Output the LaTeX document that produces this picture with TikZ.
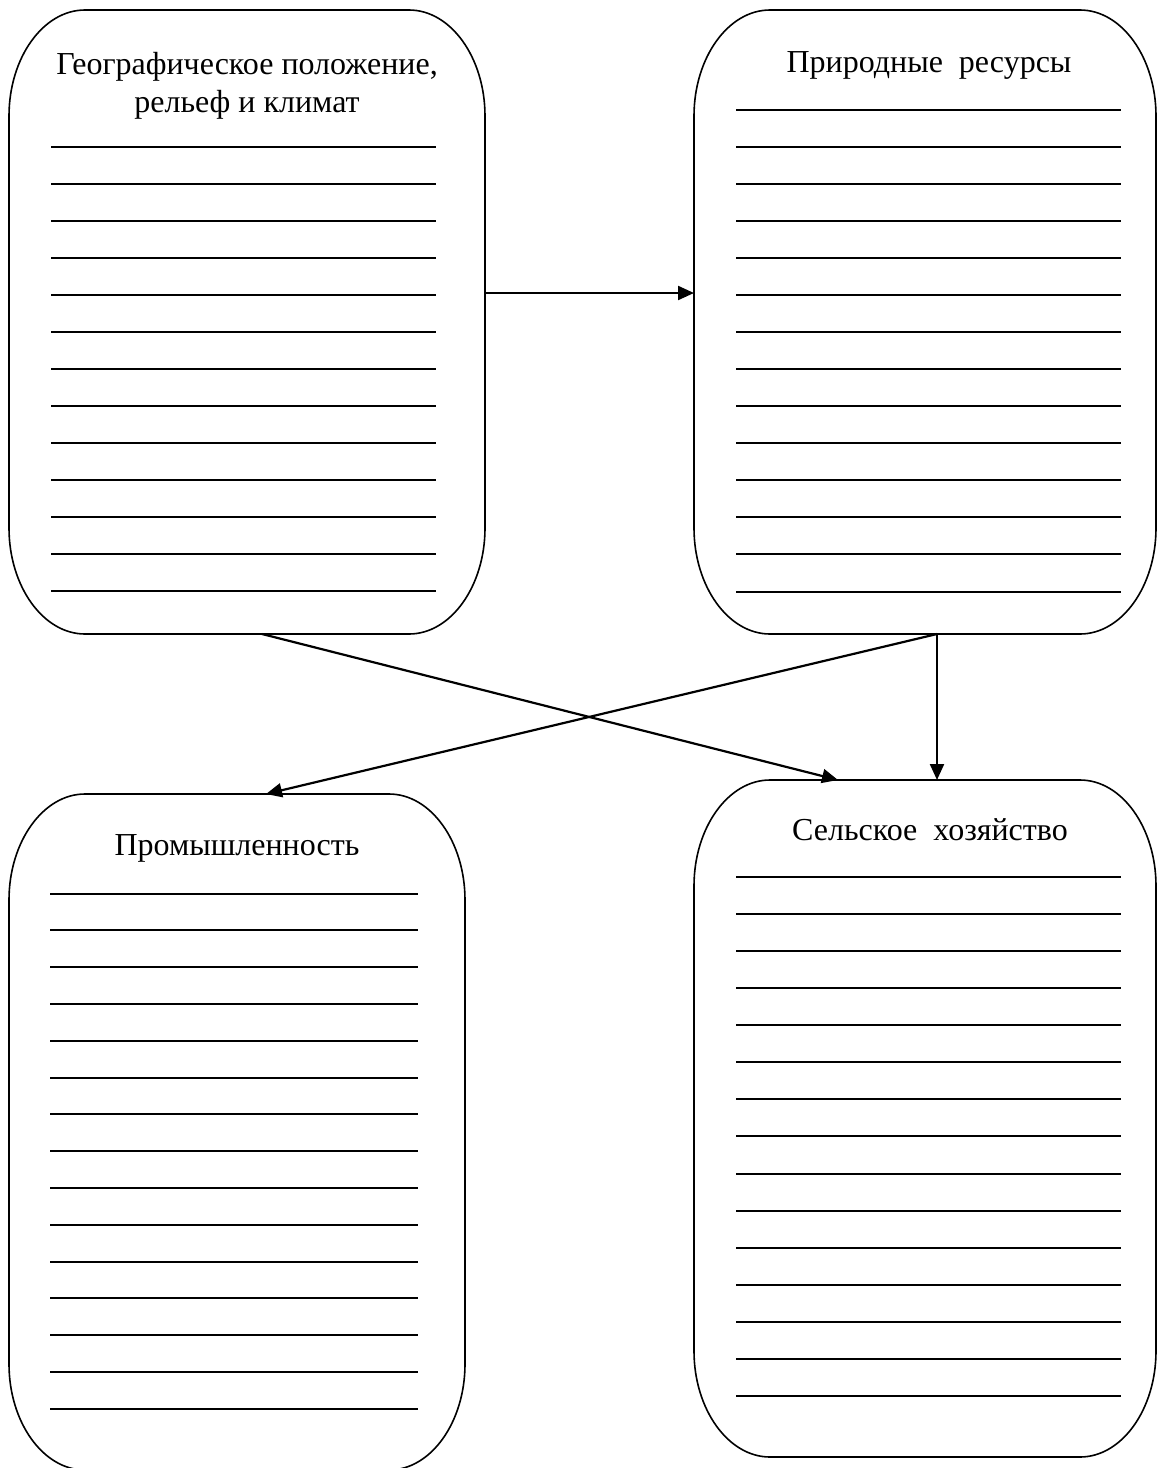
\documentclass[tikz,border=0pt]{standalone}
\usepackage{fontspec}
\setmainfont{Liberation Serif}
\usetikzlibrary{arrows.meta,calc}
\tikzset{
  panelnode/.style={inner sep=0pt, outer sep=0pt},
  panelline/.style={line width=1.6pt, line join=round},
  title/.style={anchor=base, inner sep=0pt, font=\fontsize{32}{38}\selectfont},
  blank/.style={line width=1.7pt},
  arr/.style={line width=2.2pt, -{Triangle[length=16pt,width=14pt]}}
}
% rounded panel with elliptical corners: x1,y1,x2,y2 (pixel coordinates)
\newcommand\roundpanel[4]{%
  \draw[panelline] (#1+76,#2) -- (#3-76,#2)
    .. controls (#3-34,#2) and (#3,#2+48) .. (#3,#2+106)
    -- (#3,#4-106)
    .. controls (#3,#4-48) and (#3-34,#4) .. (#3-76,#4)
    -- (#1+76,#4)
    .. controls (#1+34,#4) and (#1,#4-48) .. (#1,#4-106)
    -- (#1,#2+106)
    .. controls (#1,#2+48) and (#1+34,#2) .. (#1+76,#2) -- cycle;}
\begin{document}
\begin{tikzpicture}[x=1pt,y=-1pt]
\useasboundingbox (0,0) rectangle (1157,1468);
% panels (named nodes + outlines)
\node[panelnode, minimum width=476pt, minimum height=624pt] (A) at (247,322) {};
\node[panelnode, minimum width=462pt, minimum height=624pt] (B) at (925,322) {};
\node[panelnode, minimum width=456pt, minimum height=676pt] (C) at (237,1132) {};
\node[panelnode, minimum width=462pt, minimum height=677pt] (D) at (925,1118.5) {};
\roundpanel{9}{10}{485}{634}
\roundpanel{694}{10}{1156}{634}
\roundpanel{9}{794}{465}{1470}
\roundpanel{694}{780}{1156}{1457}
% titles
\node[title] (tA1) at (247,74) {Географическое положение,};
\node[title] (tA2) at (247,112) {рельеф и климат};
\node[title] (tB) at (929,72) {Природные\ \ ресурсы};
\node[title] (tC) at (237,855) {Промышленность};
\node[title] (tD) at (930,840) {Сельское\ \ хозяйство};
% writing lines
\foreach \i in {0,...,12} {\pgfmathtruncatemacro\yy{147+37*\i}
  \draw[blank] (51,\yy) -- (436,\yy);}
\foreach \i in {0,...,13} {\pgfmathtruncatemacro\yy{110+37.08*\i}
  \draw[blank] (736,\yy) -- (1121,\yy);}
\foreach \i in {0,...,14} {\pgfmathtruncatemacro\yy{894+36.8*\i}
  \draw[blank] (50,\yy) -- (418,\yy);}
\foreach \i in {0,...,14} {\pgfmathtruncatemacro\yy{877+37.14*\i}
  \draw[blank] (736,\yy) -- (1121,\yy);}
% connector anchors
\coordinate (a1) at (485,293);
\coordinate (a2) at (262,634);
\coordinate (b1) at (937,634);
\coordinate (c1) at (266,794);
\coordinate (d1) at (838,780);
% connectors
\draw[arr] (a1) -- (a1 -| B.west);
\draw[arr] (a2) -- (d1);
\draw[arr] (b1) -- (c1);
\draw[arr] (b1) -- (b1 |- D.north);
\end{tikzpicture}
\end{document}
